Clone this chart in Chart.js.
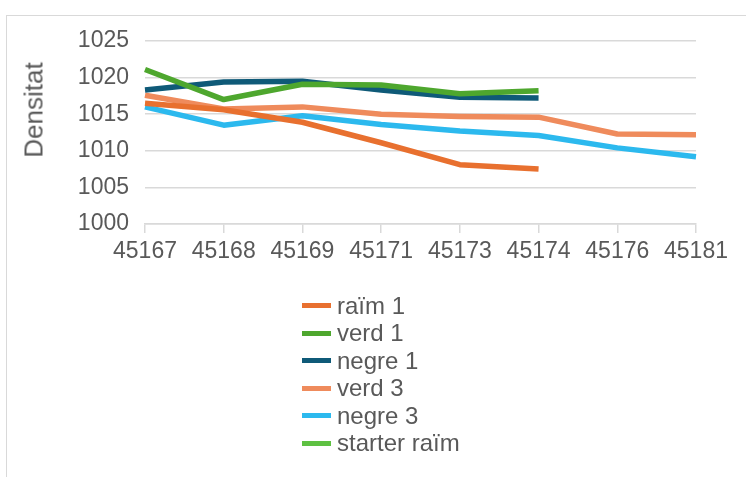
<!DOCTYPE html>
<html>
<head>
<meta charset="utf-8">
<script src="https://cdn.jsdelivr.net/npm/chart.js@4"></script>
<style>
  html, body { margin: 0; padding: 0; background: #fff; }
  #wrap { position: relative; width: 746px; height: 477px; overflow: hidden; font-family: "Liberation Sans", Arial, sans-serif; }
  #frame { position: absolute; left: 6px; top: 15px; width: 800px; height: 500px; border: 1px solid #d9d9d9; box-sizing: border-box; }
  #chart { position: absolute; left: 0; top: 0; }
  #ytitle { position: absolute; left: 34px; top: 110px; transform: translate(-50%, -50%) rotate(-90deg); font-size: 26px; color: #595959; white-space: nowrap; }
  #legend { position: absolute; left: 302px; top: 292px; }
  .item { height: 27.5px; display: flex; align-items: center; font-size: 24px; color: #595959; }
  .swatch { width: 29px; height: 5px; margin-right: 6px; }
</style>
</head>
<body>
<div id="wrap">
  <div id="frame"></div>
  <canvas id="chart" width="746" height="477"></canvas>
  <div id="ytitle">Densitat</div>
  <div id="legend"></div>
</div>
<script>
// --- DATA ---
const days = ["45167", "45168", "45169", "45171", "45173", "45174", "45176", "45181"];
const raim1 = [1016.5, 1015.6, 1013.9, 1011.1, 1008.1, 1007.5, null, null];
const verd1 = [1021.1, 1017.0, 1019.1, 1019.0, 1017.8, 1018.2, null, null];
const negre1 = [1018.3, 1019.4, 1019.5, 1018.3, 1017.3, 1017.2, null, null];
const verd3 = [1017.6, 1015.7, 1016.0, 1015.0, 1014.7, 1014.6, 1012.3, 1012.2];
const negre3 = [1016.0, 1013.5, 1014.8, 1013.6, 1012.7, 1012.1, 1010.4, 1009.2];
const starterRaim = [null, null, null, null, null, null, null, null];
const yTicks = [1000, 1005, 1010, 1015, 1020, 1025];

const series = [
    { label: "raïm 1", data: raim1, color: "#e8702f" },
    { label: "verd 1", data: verd1, color: "#4ea72e" },
    { label: "negre 1", data: negre1, color: "#0f5a78" },
    { label: "verd 3", data: verd3, color: "#ef8b5c" },
    { label: "negre 3", data: negre3, color: "#2cb9ee" },
    { label: "starter raïm", data: starterRaim, color: "#5ec142" }
];

const grey = "#595959";
const gridGrey = "#d9d9d9";

// --- CHART ---
const ctx = document.getElementById("chart").getContext("2d");
const chart = new Chart(ctx, {
    type: "line",
    data: {
        labels: days,
        datasets: series.map(s => ({
            label: s.label,
            data: s.data,
            borderColor: s.color,
            backgroundColor: s.color,
            borderWidth: 5.5,
            borderJoinStyle: "round",
            pointRadius: 0,
            tension: 0,
            fill: false
        }))
    },
    options: {
        responsive: false,
        animation: false,
        layout: { padding: { left: 0, right: 50, top: 41, bottom: 0 } },
        plugins: { legend: { display: false }, tooltip: { enabled: false } },
        scales: {
            x: {
                offset: false,
                grid: { drawOnChartArea: false, drawTicks: true, tickLength: 9, color: gridGrey, lineWidth: 1.5 },
                border: { display: true, color: gridGrey, width: 1.5 },
                ticks: { color: grey, font: { family: "Liberation Sans", size: 23 }, padding: 5, maxRotation: 0, autoSkip: false },
                afterFit: scale => { scale.height = 253; }
            },
            y: {
                min: 1000,
                max: 1025,
                afterBuildTicks: scale => { scale.ticks = yTicks.map(v => ({ value: v })); },
                grid: { drawTicks: false, color: gridGrey, lineWidth: 1.5 },
                border: { display: false },
                ticks: { color: grey, font: { family: "Liberation Sans", size: 23 }, padding: 16, callback: v => String(v) },
                afterFit: scale => { scale.width = 145; }
            }
        }
    }
});

// --- LEGEND ---
const legend = document.getElementById("legend");
series.forEach(s => {
    legend.innerHTML += `<div class="item"><span class="swatch" style="background:${s.color}"></span>${s.label}</div>`;
});
</script>
</body>
</html>
